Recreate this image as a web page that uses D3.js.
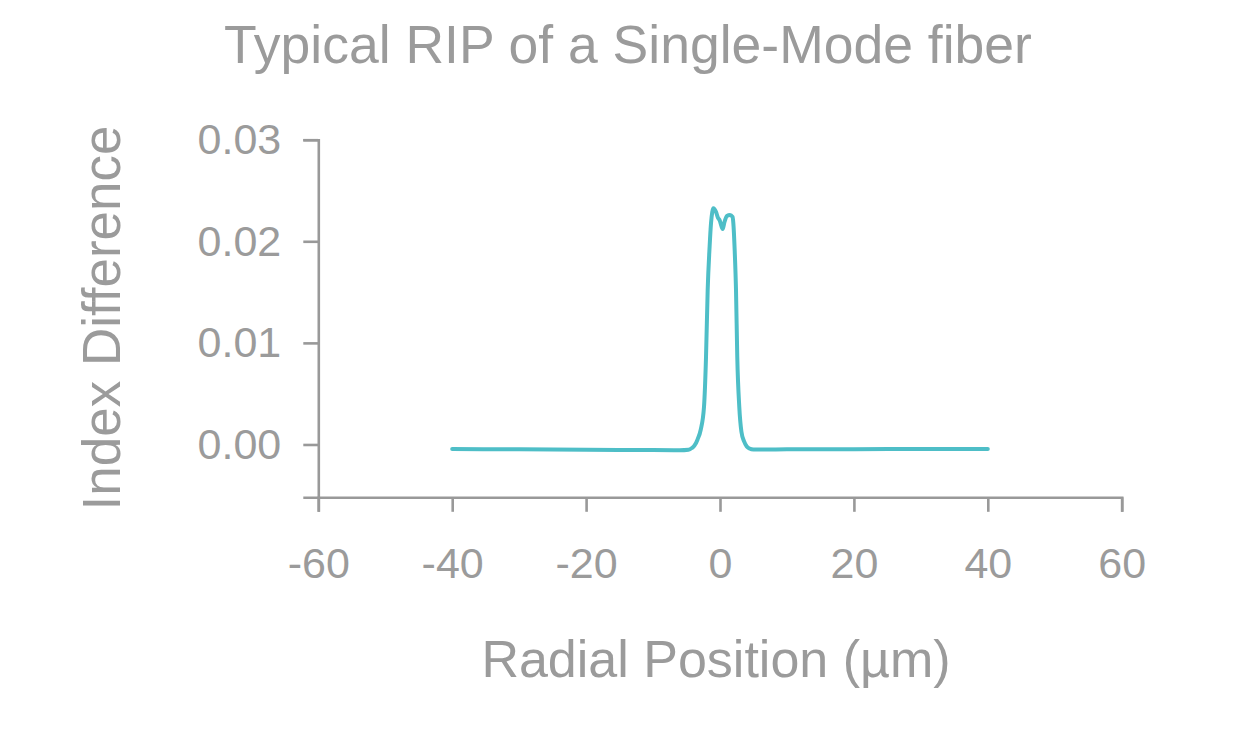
<!DOCTYPE html>
<html>
<head>
<meta charset="utf-8">
<script src="https://cdn.jsdelivr.net/npm/d3@7"></script>
<style>
  html, body { margin: 0; padding: 0; background: #ffffff; }
  svg { display: block; }
  text { font-family: "Liberation Sans", Arial, Helvetica, sans-serif; fill: #9b9b9b; }
</style>
</head>
<body>
<svg id="chart" width="1260" height="756"></svg>
<script>
// ---- data ----
const titleText = "Typical RIP of a Single-Mode fiber";
const xLabel = "Radial Position (µm)";
const yLabel = "Index Difference";
const xTicks = [-60, -40, -20, 0, 20, 40, 60];
const xTickLabels = ["-60", "-40", "-20", "0", "20", "40", "60"];
const yTicks = [0, 0.01, 0.02, 0.03];
const yTickLabels = ["0.00", "0.01", "0.02", "0.03"];
const xDomain = [-60, 60];
const yDomain = [-0.0052, 0.03];

// radial position (µm)
const radius = [-40, -30, -20, -10, -6, -4.7, -4.2, -3.8, -3.35, -2.88, -2.39, -2.09, -1.84, -1.55, -1.34, -1.15,
  -0.99, -0.6, -0.3, -0.07, 0.4, 0.67, 1.05, 1.49, 1.87, 1.99, 2.2, 2.39, 2.58, 2.88, 3.2, 3.6, 4.0, 4.4, 5.0,
  6.5, 10, 20, 30, 40];
// index difference
const indexDiff = [-0.00045, -0.00048, -0.00052, -0.00055, -0.00057, -0.00052, -0.00035, -0.0001, 0.0005, 0.00145,
  0.0037, 0.0086, 0.0152, 0.0195, 0.0218, 0.0229,
  0.02325, 0.0229, 0.0223, 0.0221, 0.0212, 0.0219, 0.0225, 0.0226, 0.0224, 0.0218, 0.0190, 0.0152, 0.0086, 0.0037,
  0.00125, 0.0003, -0.0002, -0.0004, -0.0005,
  -0.0005, -0.00047, -0.00046, -0.00045, -0.00045];

// ---- layout ----
const svg = d3.select("#chart");
const mLeft = 318.3, mRight = 1121.7, mTop = 139.7, mBottom = 497.3;
const grey = "#9b9b9b";

const x = d3.scaleLinear().domain(xDomain).range([mLeft, mRight]);
const y = d3.scaleLinear().domain(yDomain).range([mBottom, mTop]);

// title
svg.append("text")
  .attr("x", 628).attr("y", 63)
  .attr("text-anchor", "middle")
  .style("font-size", "53.5px")
  .text(titleText);

// x axis
const gx = svg.append("g")
  .attr("transform", `translate(0,${mBottom})`)
  .call(d3.axisBottom(x).tickValues(xTicks).tickFormat((d, i) => xTickLabels[i])
    .tickSize(14.5).tickSizeOuter(14.5).tickPadding(35.5));
gx.selectAll("text").style("font-size", "43px").attr("fill", grey);

// y axis
const gy = svg.append("g")
  .attr("transform", `translate(${mLeft},0)`)
  .call(d3.axisLeft(y).tickValues(yTicks).tickFormat((d, i) => yTickLabels[i])
    .tickSize(15).tickSizeOuter(15).tickPadding(22));
gy.selectAll("text").style("font-size", "43px").attr("fill", grey);

svg.selectAll(".domain, .tick line")
  .attr("stroke", "#999999")
  .attr("stroke-width", 2.6);

// axis titles
svg.append("text")
  .attr("x", 716).attr("y", 677)
  .attr("text-anchor", "middle")
  .style("font-size", "52px")
  .text(xLabel);

svg.append("text")
  .attr("transform", "translate(120,318) rotate(-90)")
  .attr("text-anchor", "middle")
  .style("font-size", "53px")
  .text(yLabel);

// profile line
const pts = radius.map((r, i) => [r, indexDiff[i]]);
const line = d3.line()
  .x(d => x(d[0]))
  .y(d => y(d[1]))
  .curve(d3.curveMonotoneX);

svg.append("path")
  .datum(pts)
  .attr("d", line)
  .attr("fill", "none")
  .attr("stroke", "#4ebec7")
  .attr("stroke-width", 4)
  .attr("stroke-linejoin", "round")
  .attr("stroke-linecap", "round");
</script>
</body>
</html>
